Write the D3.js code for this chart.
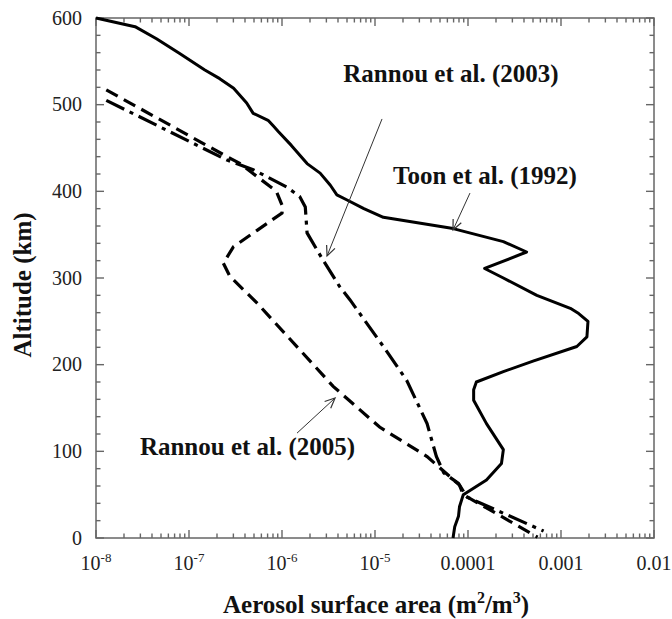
<!DOCTYPE html>
<html><head><meta charset="utf-8">
<script src="https://cdn.jsdelivr.net/npm/d3@7"></script>
<style>
html,body{margin:0;padding:0;background:#fff;}
svg{display:block;}
text{font-family:"Liberation Serif","Times New Roman",serif;}
</style></head>
<body>
<svg id="chart" width="672" height="619"></svg>
<script>
// ---- data ----
const toonAlt = [600,590,576,559,540,530,519,502,490,482,475,469,453,432,421,407,396,390,380,370,357,342,330,311,300,280,265,259,250,232,221,204,192,180,171,159,132,102,86,67,50,36,25,13,0];
const toonVal = [1.0e-8,2.63e-8,4.47e-8,7.94e-8,1.48e-7,2.14e-7,3.02e-7,4.17e-7,4.9e-7,7.08e-7,8.13e-7,9.12e-7,1.26e-6,1.86e-6,2.57e-6,3.31e-6,3.89e-6,5.01e-6,7.59e-6,1.23e-5,6.92e-5,2.4e-4,4.27e-4,1.51e-4,2.4e-4,5.5e-4,1.26e-3,1.55e-3,1.95e-3,1.9e-3,1.48e-3,5.0e-4,2.4e-4,1.23e-4,1.15e-4,1.15e-4,1.58e-4,2.4e-4,2.29e-4,1.58e-4,8.9e-5,8.1e-5,7.9e-5,7.2e-5,6.9e-5];

const r2005Alt = [517,440,432,400,382,375,355,336,317,302,271,175,128,94,61,50,1];
const r2005Val = [1.29e-8,2.57e-7,3.55e-7,8.7e-7,1.02e-6,1.0e-6,5.4e-7,3.0e-7,2.34e-7,2.75e-7,5.4e-7,3.55e-6,1.12e-5,3.63e-5,8.1e-5,8.9e-5,5.6e-4];

const r2003Alt = [505,436,425,405,394,382,352,321,290,275,221,182,132,94,75,63,47,8];
const r2003Val = [1.29e-8,2.57e-7,4.9e-7,1.12e-6,1.55e-6,1.78e-6,1.86e-6,2.75e-6,4.17e-6,5.37e-6,1.23e-5,2.19e-5,3.63e-5,4.57e-5,5.5e-5,7.9e-5,9.8e-5,6.5e-4];

const xMajor = [1e-8,1e-7,1e-6,1e-5,1e-4,1e-3,1e-2];
const xTickBase = ["10","10","10","10","0.0001","0.001","0.01"];
const xTickExp = ["-8","-7","-6","-5","","",""];
const yMajor = [0,100,200,300,400,500,600];
const yTickLabels = ["0","100","200","300","400","500","600"];

// annotations: label, label position (value, alt), arrow from (value, alt) to (value, alt)
const annLabels = ["Rannou et al. (2003)","Toon et al. (1992)","Rannou et al. (2005)"];
const annLabelVal = [6.56e-5,1.52e-4,4.26e-7];
const annLabelAlt = [526,408.5,95.8];
const annFromVal = [1.19e-5,1.05e-4,1.45e-6];
const annFromAlt = [483.5,398,121];
const annToVal = [3.05e-6,6.9e-5,3.72e-6];
const annToAlt = [325.4,355.4,161.5];

// ---- layout ----
const svg = d3.select("#chart");
const L = 96, R = 654, T = 18, B = 538;
const x = d3.scaleLog().domain([1e-8,1e-2]).range([L,R]);
const y = d3.scaleLinear().domain([0,600]).range([B,T]);
const axisColor = "#666";

const xMinor = [];
for (let e=-8; e<-2; e++) for (let k=2;k<=9;k++) xMinor.push(k*Math.pow(10,e));
const yMinor = d3.range(0,601,20).filter(v=>v%100!==0);

// frame
svg.append("rect").attr("x",L).attr("y",T).attr("width",R-L).attr("height",B-T)
  .attr("fill","none").attr("stroke",axisColor).attr("stroke-width",1.5);

// inward ticks on all four sides
const tg = svg.append("g").attr("stroke",axisColor).attr("stroke-width",1.4);
function xTicks(vals, len){
  tg.selectAll(null).data(vals).enter().append("line")
    .attr("x1",d=>x(d)).attr("x2",d=>x(d)).attr("y1",B).attr("y2",B-len);
  tg.selectAll(null).data(vals).enter().append("line")
    .attr("x1",d=>x(d)).attr("x2",d=>x(d)).attr("y1",T).attr("y2",T+len);
}
function yTicks(vals, len){
  tg.selectAll(null).data(vals).enter().append("line")
    .attr("y1",d=>y(d)).attr("y2",d=>y(d)).attr("x1",L).attr("x2",L+len);
  tg.selectAll(null).data(vals).enter().append("line")
    .attr("y1",d=>y(d)).attr("y2",d=>y(d)).attr("x1",R).attr("x2",R-len);
}
xTicks(xMajor, 8); xTicks(xMinor, 4.5);
yTicks(yMajor, 8); yTicks(yMinor, 4.5);

// tick labels
const xl = svg.append("g").attr("fill","#222").attr("font-size",20);
xMajor.forEach((v,i)=>{
  const t = xl.append("text").attr("x",x(v)).attr("y",570).attr("text-anchor","middle");
  t.append("tspan").text(xTickBase[i]);
  if (xTickExp[i]) t.append("tspan").attr("font-size",13).attr("dy",-8).text(xTickExp[i]);
});
const yl = svg.append("g").attr("fill","#222").attr("font-size",20);
yMajor.forEach((v,i)=>{
  yl.append("text").attr("x",82).attr("y",y(v)+6.5).attr("text-anchor","end").text(yTickLabels[i]);
});

// axis titles
const xt = svg.append("text").attr("x",376).attr("y",613).attr("text-anchor","middle")
  .attr("font-size",25).attr("font-weight","bold").attr("fill","#111");
xt.append("tspan").text("Aerosol surface area (m");
xt.append("tspan").attr("font-size",16).attr("dy",-10).text("2");
xt.append("tspan").attr("dy",10).text("/m");
xt.append("tspan").attr("font-size",16).attr("dy",-10).text("3");
xt.append("tspan").attr("dy",10).text(")");

svg.append("text").attr("transform",`translate(31,285) rotate(-90)`).attr("text-anchor","middle")
  .attr("font-size",25).attr("font-weight","bold").attr("fill","#111").text("Altitude (km)");

// lines
const line = d3.line().x(d=>x(d[0])).y(d=>y(d[1]));
const toon = toonVal.map((v,i)=>[v,toonAlt[i]]);
const r2005 = r2005Val.map((v,i)=>[v,r2005Alt[i]]);
const r2003 = r2003Val.map((v,i)=>[v,r2003Alt[i]]);

svg.append("path").datum(toon).attr("d",line).attr("fill","none").attr("stroke","#000")
  .attr("stroke-width",3).attr("stroke-linejoin","round");
svg.append("path").datum(r2005).attr("d",line).attr("fill","none").attr("stroke","#000")
  .attr("stroke-width",3.2).attr("stroke-dasharray","13,7");
svg.append("path").datum(r2003).attr("d",line).attr("fill","none").attr("stroke","#000")
  .attr("stroke-width",3.2).attr("stroke-dasharray","20,6,4,6");

// annotations
const ann = svg.append("g");
annLabels.forEach((lab,i)=>{
  ann.append("text").attr("x",x(annLabelVal[i])).attr("y",y(annLabelAlt[i])).attr("text-anchor","middle")
    .attr("font-size",25).attr("font-weight","bold").attr("fill","#111").text(lab);
  const x1=x(annFromVal[i]), y1=y(annFromAlt[i]), x2=x(annToVal[i]), y2=y(annToAlt[i]);
  ann.append("line").attr("x1",x1).attr("y1",y1).attr("x2",x2).attr("y2",y2)
    .attr("stroke","#333").attr("stroke-width",1);
  const a = Math.atan2(y2-y1,x2-x1), len=11, sp=0.42;
  const p = [[x2-len*Math.cos(a-sp), y2-len*Math.sin(a-sp)],[x2,y2],[x2-len*Math.cos(a+sp), y2-len*Math.sin(a+sp)]];
  ann.append("path").attr("d",d3.line()(p)).attr("fill","none").attr("stroke","#333").attr("stroke-width",1.2);
});
</script>
</body></html>
